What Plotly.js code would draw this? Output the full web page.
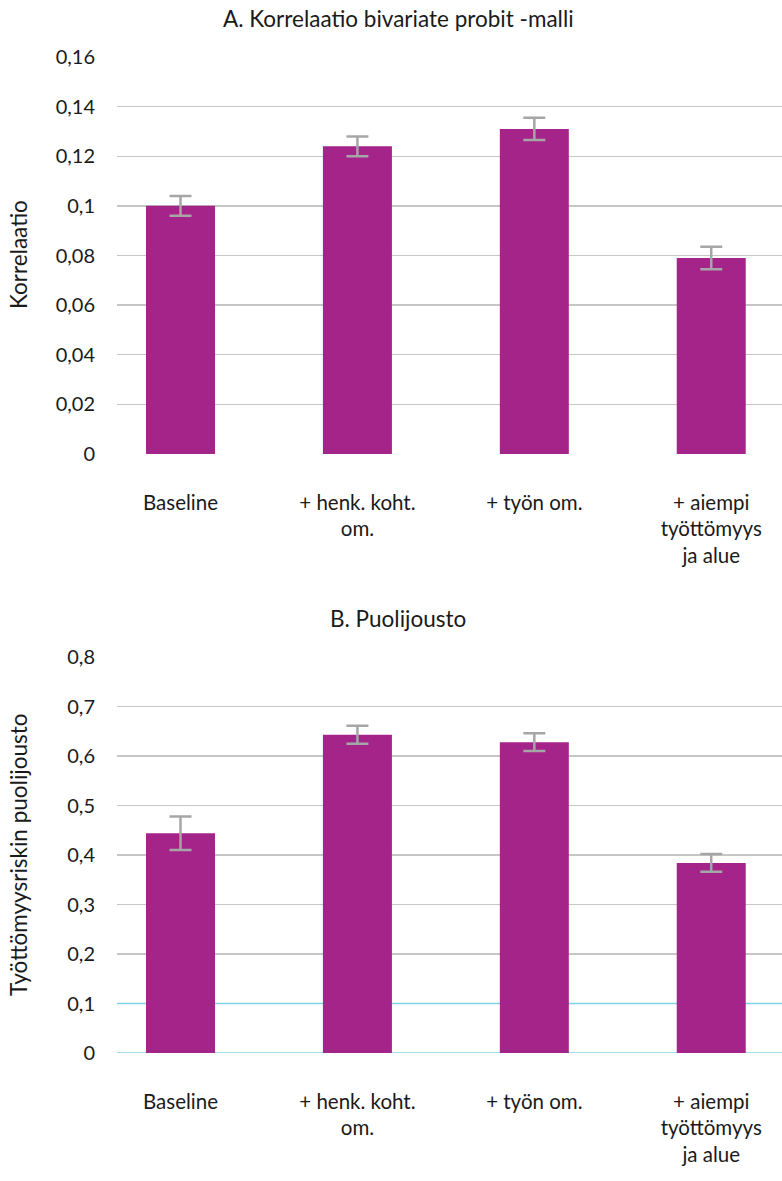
<!DOCTYPE html>
<html>
<head>
<meta charset="utf-8">
<script src="https://cdn.plot.ly/plotly-3.0.1.min.js"></script>
<style>html,body{margin:0;padding:0;background:#fff;}#chart{width:782px;height:1181px;}</style>
</head>
<body>
<div id="chart"></div>
<script>
// Data
const categories = ['Baseline', '+ henk. koht.<br>om.', '+ työn om.', '+ aiempi<br>työttömyys<br>ja alue'];
const corrValues = [0.100, 0.124, 0.131, 0.079];
const corrErrors = [0.004, 0.004, 0.0045, 0.0045];
const elastValues = [0.444, 0.643, 0.628, 0.384];
const elastErrors = [0.034, 0.018, 0.018, 0.018];
const corrTicks = [0, 0.02, 0.04, 0.06, 0.08, 0.1, 0.12, 0.14, 0.16];
const corrTickText = ['0', '0,02', '0,04', '0,06', '0,08', '0,1', '0,12', '0,14', '0,16'];
const elastTicksGray = [0.2, 0.3, 0.4, 0.5, 0.6, 0.7, 0.8];
const elastTicksBlue = [0, 0.1];
const elastTicks = [0, 0.1, 0.2, 0.3, 0.4, 0.5, 0.6, 0.7, 0.8];
const elastTickText = ['0', '0,1', '0,2', '0,3', '0,4', '0,5', '0,6', '0,7', '0,8'];
const titleA = 'A. Korrelaatio bivariate probit -malli';
const titleB = 'B. Puolijousto';
const yTitleA = 'Korrelaatio';
const yTitleB = 'Työttömyysriskin puolijousto';

const barColor = '#A4248A';
const errColor = '#A6A6A6';
const gridGray = '#C6C6C6';
const gridBlue = '#7FD3E6';
const fam = 'Lato, "Open Sans", sans-serif';
const tickFont = {family: fam, size: 20, color: '#1a1a1a'};
const catFont = {family: fam, size: 20.5, color: '#1a1a1a'};
const titleFont = {family: fam, size: 22.5, color: '#1a1a1a'};

const H = 1181, W = 782, L = 117, PW = 665;
const domA = [1 - 454 / H, 1 - 57 / H];
const domB = [1 - 1053 / H, 1 - 657 / H];
const xRange = [-0.359, 3.40];

const traces = [
  {type: 'bar', x: categories, y: corrValues, xaxis: 'x', yaxis: 'y',
   marker: {color: barColor}, hoverinfo: 'skip',
   error_y: {type: 'data', array: corrErrors, visible: true, color: errColor, thickness: 2.5, width: 11}},
  {type: 'bar', x: categories, y: elastValues, xaxis: 'x2', yaxis: 'y2',
   marker: {color: barColor}, hoverinfo: 'skip',
   error_y: {type: 'data', array: elastErrors, visible: true, color: errColor, thickness: 2.5, width: 11}}
];

const shapes = elastTicksBlue.map(v => ({
  type: 'line', xref: 'paper', yref: 'y2', x0: 0, x1: 1, y0: v, y1: v, layer: 'below',
  line: {color: gridBlue, width: 1.3}
}));

const layout = {
  width: W, height: H,
  margin: {l: L, r: 0, t: 0, b: 0},
  paper_bgcolor: '#fff', plot_bgcolor: 'rgba(0,0,0,0)',
  showlegend: false,
  font: tickFont,
  bargap: 0.61,
  xaxis: {domain: [0, 1], anchor: 'y', type: 'category', range: xRange, showgrid: false,
          showline: false, zeroline: false, ticks: '', ticklabelstandoff: 34, tickfont: catFont},
  yaxis: {domain: domA, anchor: 'x', range: [0, 0.16], tickvals: corrTicks, ticktext: corrTickText,
          showgrid: true, gridcolor: gridGray, gridwidth: 1.3, zeroline: false, showline: false,
          ticks: '', ticklabelstandoff: 21, tickfont: tickFont},
  xaxis2: {domain: [0, 1], anchor: 'y2', type: 'category', range: xRange, showgrid: false,
          showline: false, zeroline: false, ticks: '', ticklabelstandoff: 34, tickfont: catFont},
  yaxis2: {domain: domB, anchor: 'x2', range: [0, 0.8], tickvals: elastTicks, ticktext: elastTickText,
          showgrid: false, zeroline: false, showline: false, ticks: '', ticklabelstandoff: 21, tickfont: tickFont},
  yaxis3: {domain: domB, anchor: 'x2', overlaying: 'y2', range: [0, 0.8], tickvals: elastTicksGray,
          showgrid: true, gridcolor: gridGray, gridwidth: 1.3, zeroline: false, showline: false,
          showticklabels: false, ticks: ''},
  shapes: shapes,
  annotations: [
    {text: titleA, xref: 'paper', yref: 'paper', x: (398 - L) / PW, y: 1 - 18 / H, xanchor: 'center', yanchor: 'middle',
     showarrow: false, font: titleFont},
    {text: titleB, xref: 'paper', yref: 'paper', x: (398 - L) / PW, y: 1 - 618 / H, xanchor: 'center', yanchor: 'middle',
     showarrow: false, font: titleFont},
    {text: yTitleA, xref: 'paper', yref: 'paper', x: (18 - L) / PW, y: 1 - 255 / H, xanchor: 'center', yanchor: 'middle',
     textangle: -90, showarrow: false, font: titleFont},
    {text: yTitleB, xref: 'paper', yref: 'paper', x: (18 - L) / PW, y: 1 - 855 / H, xanchor: 'center', yanchor: 'middle',
     textangle: -90, showarrow: false, font: titleFont}
  ]
};

traces.push({type: 'scatter', x: categories, y: elastValues, xaxis: 'x2', yaxis: 'y3', mode: 'none', hoverinfo: 'skip', showlegend: false});

Plotly.newPlot('chart', traces, layout, {displayModeBar: false, staticPlot: true});
</script>
</body>
</html>
